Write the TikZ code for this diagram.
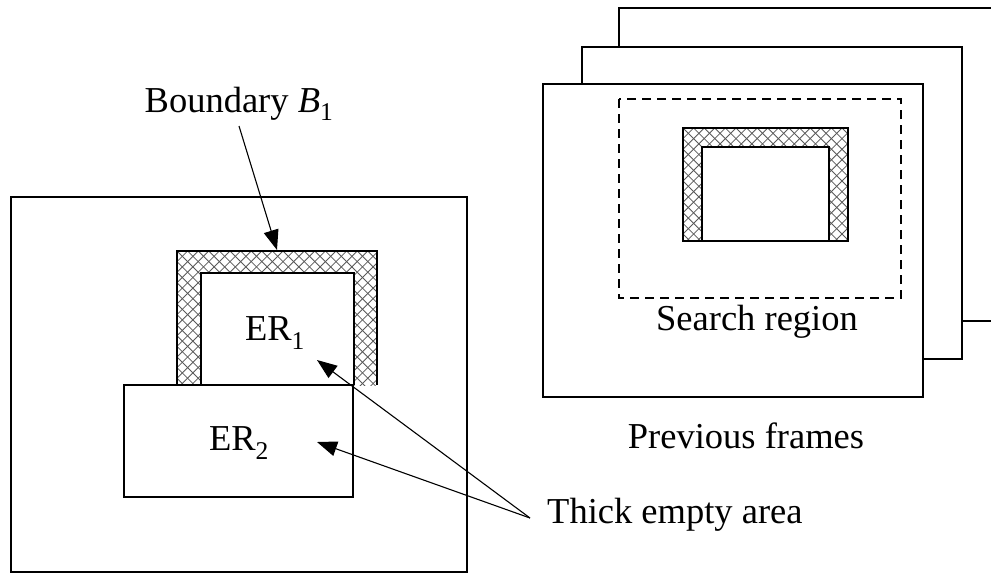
\documentclass[tikz,border=0pt]{standalone}
\usepackage{fontspec}
\setmainfont{Liberation Serif}
\usetikzlibrary{arrows.meta}

\tikzset{
  frame/.style={draw=black, line width=1.1pt, fill=white},
  hatch/.style={draw=black!65, line width=0.8pt},
  region/.style={draw=black, line width=1.5pt, fill=white},
  lbl/.style={font=\fontsize{36.5}{40}\selectfont, inner sep=0pt},
  pointer/.style={line width=1.1pt, -{Triangle[length=20pt,width=15pt]}},
  searchbox/.style={draw=black, line width=1.1pt, dash pattern=on 9pt off 6pt}
}

\begin{document}
\begin{tikzpicture}[x=1pt, y=-1pt]
\useasboundingbox (0,0) rectangle (991,574);

% ---------- current frame ----------
\draw[frame] (11,197) rectangle (467,572);

% hatched boundary band around ER1
\begin{scope}
  \clip (177,251) rectangle (377,385);
  \foreach \k in {-15,...,35}{
    \draw[hatch] ({177+\k*10.6},251) -- ++(140,140);
    \draw[hatch] ({177+\k*10.6},251) -- ++(-140,140);
  }
\end{scope}
\draw[line width=1.5pt] (177,385) -- (177,251) -- (377,251) -- (377,385);
\draw[region] (201,385) -- (201,273) -- (354,273) -- (354,385);
\coordinate (btop) at (277,250);

% ER2 box
\draw[region] (124,385) rectangle (353,497);

\node[lbl] (er1) at (275,333) {ER\textsubscript{1}};
\node[lbl] (er2) at (239,443) {ER\textsubscript{2}};
\coordinate (tip1) at (317,360);
\coordinate (tip2) at (317,442);

% ---------- previous frames ----------
\draw[frame] (991,8) -- (619,8) -- (619,321) -- (991,321);
\draw[frame] (582,47) rectangle (962,359);
\draw[frame] (543,84) rectangle (923,397);
\draw[searchbox] (619,99) rectangle (901,298);

\begin{scope}
  \clip (683,128) rectangle (848,241);
  \foreach \k in {-15,...,30}{
    \draw[hatch] ({683+\k*10.6},128) -- ++(120,120);
    \draw[hatch] ({683+\k*10.6},128) -- ++(-120,120);
  }
\end{scope}
\draw[line width=1.5pt] (683,241) -- (683,128) -- (848,128) -- (848,241) -- cycle;
\draw[region] (702,147) rectangle (829,241);

\node[lbl] (search) at (757,322) {Search region};
\node[lbl] (prev) at (746,436) {Previous frames};

% ---------- labels and pointers ----------
\node[lbl] (bnd) at (239,104) {Boundary \textit{B}\textsubscript{1}};
\node[lbl, anchor=west] (thick) at (547,515) {Thick empty area};
\coordinate (conv) at (530,518);

\draw[pointer] (239,126) -- (btop);
\draw[pointer] (conv) -- (tip1);
\draw[pointer] (conv) -- (tip2);
\end{tikzpicture}
\end{document}
